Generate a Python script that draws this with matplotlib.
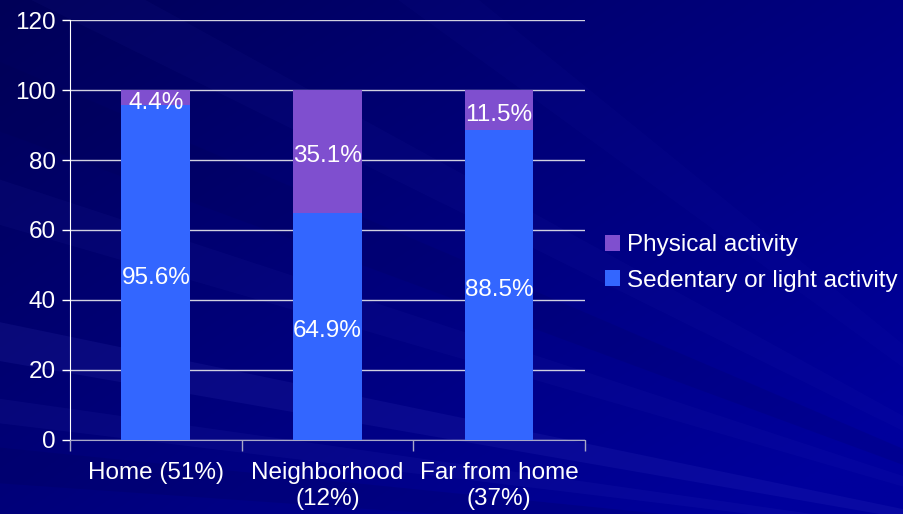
import numpy as np
import matplotlib.pyplot as plt
from matplotlib.patches import Polygon

categories = ['Home (51%)', 'Neighborhood\n(12%)', 'Far from home\n(37%)']
sedentary = [95.6, 64.9, 88.5]
physical = [4.4, 35.1, 11.5]
series_names = ['Physical activity', 'Sedentary or light activity']
yticks = [0, 20, 40, 60, 80, 100, 120]

plt.rcParams['font.family'] = ['Liberation Sans', 'DejaVu Sans']

fig = plt.figure(figsize=(9.04, 5.14), dpi=100)

# background: dark navy gradient with faint rays
bg = fig.add_axes([0, 0, 1, 1], zorder=-10)
bg.set_xlim(0, 1)
bg.set_ylim(0, 1)
bg.axis('off')
xx, yy = np.meshgrid(np.linspace(0, 1, 300), np.linspace(0, 1, 200))
t = np.clip(0.6 * xx + 0.5 * yy, 0, 1)
c0 = np.array([0x00, 0x00, 0x58]) / 255
c1 = np.array([0x00, 0x00, 0x9c]) / 255
img = c0[None, None, :] * (1 - t[..., None]) + c1[None, None, :] * t[..., None]
bg.imshow(img, extent=[0, 1, 0, 1], origin='upper', aspect='auto')
src = (1.3, -0.1)
for a1, a2, alpha, col in [(160, 163, 0.10, '#5a5ae0'), (166, 168, 0.08, '#5050d8'),
                           (150, 153, 0.07, '#4040c8'), (136, 139, 0.06, '#4040c8'),
                           (125, 128, 0.05, '#3a3ac8'), (170, 173, 0.15, '#000048'),
                           (143, 147, 0.12, '#000048')]:
    r = 2.5
    p1 = (src[0] + r * np.cos(np.radians(a1)), src[1] + r * np.sin(np.radians(a1)))
    p2 = (src[0] + r * np.cos(np.radians(a2)), src[1] + r * np.sin(np.radians(a2)))
    bg.add_patch(Polygon([src, p1, p2], closed=True, color=col, alpha=alpha, lw=0))

ax = fig.add_axes([70 / 904, 74 / 514, 515 / 904, 420 / 514])
ax.set_facecolor('none')

x = np.arange(len(categories))
width = 0.4
b1 = ax.bar(x, sedentary, width, color='#3366ff', label=series_names[1], zorder=3)
b2 = ax.bar(x, physical, width, bottom=sedentary, color='#7f4fcf', label=series_names[0], zorder=3)

for i in range(len(categories)):
    ax.annotate(f'{sedentary[i]:.1f}%', (x[i], sedentary[i] / 2), xytext=(0, -3.5),
                textcoords='offset points', ha='center', va='center',
                color='white', fontsize=17.5, zorder=4)
    ax.annotate(f'{physical[i]:.1f}%', (x[i], sedentary[i] + physical[i] / 2), xytext=(0, -3.5),
                textcoords='offset points', ha='center', va='center',
                color='white', fontsize=17.5, zorder=4)

ax.set_xlim(-0.5, 2.5)
ax.set_ylim(0, 120)
ax.set_yticks(yticks)
ax.tick_params(axis='y', colors='white', labelsize=17.5, length=6, width=1, pad=4)
ax.yaxis.grid(True, color='#d0d0e0', linewidth=1, zorder=0)
ax.set_xticks(x)
ax.set_xticklabels(categories, color='white', fontsize=17.5, linespacing=1.25)
ax.tick_params(axis='x', which='major', length=0, pad=16)
ax.set_xticks([-0.5, 0.5, 1.5, 2.5], minor=True)
ax.tick_params(axis='x', which='minor', length=8, color='#a8a8c8', width=1)

for s in ['top', 'right']:
    ax.spines[s].set_visible(False)
ax.spines['left'].set_color('white')
ax.spines['bottom'].set_color('#a8a8c8')

handles = [b2, b1]
leg = fig.legend(handles, series_names, loc='center left', bbox_to_anchor=(583 / 904, 1 - 263 / 514),
                 frameon=False, fontsize=17.5, labelcolor='white', handlelength=0.62,
                 handleheight=0.62, handletextpad=0.3, labelspacing=0.55)

fig.savefig('out.png', dpi=100)
